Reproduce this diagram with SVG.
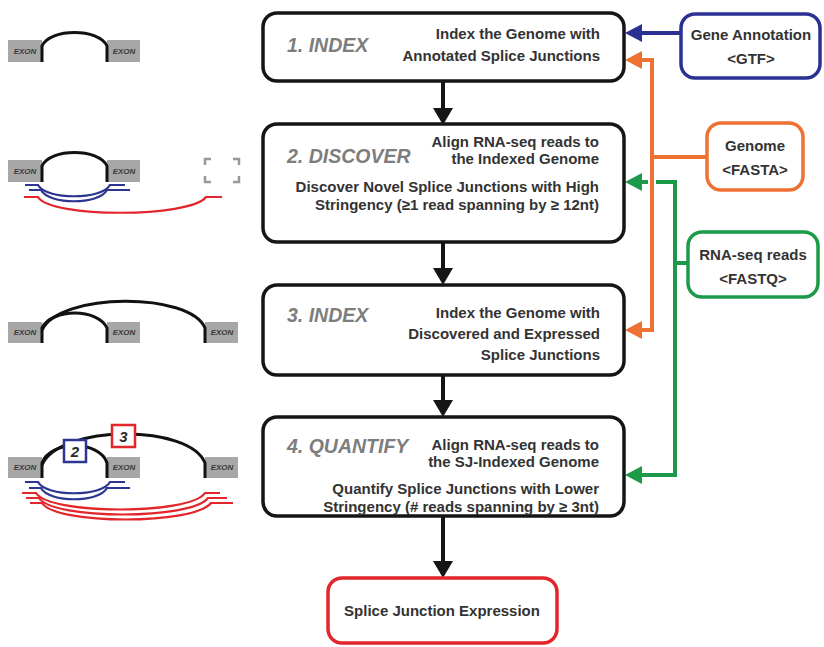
<svg xmlns="http://www.w3.org/2000/svg" width="824" height="647" viewBox="0 0 824 647">
<style>
.box{fill:#fff;stroke:#151515;stroke-width:3.5}
.title{font-family:"Liberation Sans",Arial,sans-serif;font-size:19.5px;font-style:italic;font-weight:bold;fill:#7d7d7d}
.desc{font-family:"Liberation Sans",Arial,sans-serif;font-size:15px;font-weight:bold;fill:#333;text-anchor:end}
.ctr{font-family:"Liberation Sans",Arial,sans-serif;font-size:15px;font-weight:bold;fill:#333;text-anchor:middle}
.exon{fill:#a7a7a7}
.ex{font-family:"Liberation Sans",Arial,sans-serif;font-size:8px;font-style:italic;font-weight:bold;fill:#3a3a3a;text-anchor:middle}
.arc{fill:none;stroke:#111;stroke-width:3}
.blu{fill:none;stroke:#2c3590;stroke-width:2.2}
.red{fill:none;stroke:#e3262b;stroke-width:2.2}
.conn{fill:none;stroke-width:4}
</style>
<defs>
<marker id="ak" viewBox="0 0 17 20" refX="7" refY="10" markerWidth="17" markerHeight="20" orient="auto" markerUnits="userSpaceOnUse"><path d="M0,0 L17,10 L0,20 z" fill="#151515"/></marker>
<marker id="ab" viewBox="0 0 17 18" refX="7" refY="9" markerWidth="17" markerHeight="18" orient="auto" markerUnits="userSpaceOnUse"><path d="M0,0 L17,9 L0,18 z" fill="#2a3192"/></marker>
<marker id="ao" viewBox="0 0 17 18" refX="7" refY="9" markerWidth="17" markerHeight="18" orient="auto" markerUnits="userSpaceOnUse"><path d="M0,0 L17,9 L0,18 z" fill="#ee7131"/></marker>
<marker id="ag" viewBox="0 0 17 18" refX="7" refY="9" markerWidth="17" markerHeight="18" orient="auto" markerUnits="userSpaceOnUse"><path d="M0,0 L17,9 L0,18 z" fill="#1c9a4a"/></marker>
</defs>

<g id="connectors">
<path class="conn" stroke="#151515" d="M443,82 V115" marker-end="url(#ak)"/>
<path class="conn" stroke="#151515" d="M443,242 V275" marker-end="url(#ak)"/>
<path class="conn" stroke="#151515" d="M443,375 V407" marker-end="url(#ak)"/>
<path class="conn" stroke="#151515" d="M443,516 V568" marker-end="url(#ak)"/>
<path class="conn" stroke="#2a3192" d="M681,33 H635" marker-end="url(#ab)"/>
<path class="conn" stroke="#1c9a4a" d="M687,263 H675 V182 H635" marker-end="url(#ag)"/>
<path class="conn" stroke="#1c9a4a" d="M675,263 V475 H635" marker-end="url(#ag)"/>
<path fill="none" stroke="#fff" stroke-width="8" d="M652,176 V188"/>
<path class="conn" stroke="#ee7131" d="M707,157 H652 V60 H635" marker-end="url(#ao)"/>
<path class="conn" stroke="#ee7131" d="M652,157 V330 H635" marker-end="url(#ao)"/>
</g>

<g id="step1">
<rect class="box" x="263" y="13" width="361" height="68" rx="14"/>
<text class="title" x="287" y="52">1. INDEX</text>
<text class="desc" x="600" y="39">Index the Genome with</text>
<text class="desc" x="600" y="61">Annotated Splice Junctions</text>
</g>

<g id="step2">
<rect class="box" x="263" y="124" width="361" height="118" rx="14"/>
<text class="title" x="287" y="163">2. DISCOVER</text>
<text class="desc" x="599" y="147">Align RNA-seq reads to</text>
<text class="desc" x="599" y="164">the Indexed Genome</text>
<text class="desc" x="599" y="192">Discover Novel Splice Junctions with High</text>
<text class="desc" x="599" y="210">Stringency (≥1 read spanning by ≥ 12nt)</text>
</g>

<g id="step3">
<rect class="box" x="263" y="285" width="361" height="90" rx="14"/>
<text class="title" x="287" y="322">3. INDEX</text>
<text class="desc" x="600" y="318">Index the Genome with</text>
<text class="desc" x="600" y="339">Discovered and Expressed</text>
<text class="desc" x="600" y="360">Splice Junctions</text>
</g>

<g id="step4">
<rect class="box" x="263" y="417" width="361" height="99" rx="14"/>
<text class="title" x="287" y="453">4. QUANTIFY</text>
<text class="desc" x="599" y="450">Align RNA-seq reads to</text>
<text class="desc" x="599" y="467">the SJ-Indexed Genome</text>
<text class="desc" x="599" y="494">Quantify Splice Junctions with Lower</text>
<text class="desc" x="599" y="512">Stringency (# reads spanning by ≥ 3nt)</text>
</g>

<g id="output">
<rect x="328" y="578" width="229" height="65" rx="14" fill="#fff" stroke="#e3262b" stroke-width="3.5"/>
<text class="ctr" x="442" y="616">Splice Junction Expression</text>
</g>

<g id="gtf">
<rect x="681" y="14" width="139" height="64" rx="14" fill="#fff" stroke="#2a3192" stroke-width="3.5"/>
<text class="ctr" x="751" y="40">Gene Annotation</text>
<text class="ctr" x="751" y="64">&lt;GTF&gt;</text>
</g>

<g id="fasta">
<rect x="707" y="123" width="96" height="67" rx="14" fill="#fff" stroke="#ee7131" stroke-width="3.5"/>
<text class="ctr" x="755" y="151">Genome</text>
<text class="ctr" x="755" y="175">&lt;FASTA&gt;</text>
</g>

<g id="fastq">
<rect x="688" y="232" width="130" height="65" rx="14" fill="#fff" stroke="#1c9a4a" stroke-width="3.5"/>
<text class="ctr" x="753" y="260">RNA-seq reads</text>
<text class="ctr" x="753" y="284">&lt;FASTQ&gt;</text>
</g>

<g id="sketch1">
<rect class="exon" x="8" y="40" width="34" height="22"/>
<rect class="exon" x="107" y="40" width="33" height="22"/>
<text class="ex" x="25" y="54">EXON</text>
<text class="ex" x="124" y="54">EXON</text>
<path class="arc" d="M42,62 V46 C50,28 99,28 107,46 V62"/>
</g>

<g id="sketch2">
<rect class="exon" x="8" y="160" width="34" height="22"/>
<rect class="exon" x="107" y="160" width="33" height="22"/>
<text class="ex" x="25" y="174">EXON</text>
<text class="ex" x="124" y="174">EXON</text>
<path class="arc" d="M42,182 V166 C50,148 99,148 107,166 V182"/>
<path class="blu" d="M25,185 H38 C46,200 102,200 110,185 H125"/>
<path class="blu" d="M29,190 H41 C49,205 99,205 107,190 H130"/>
<path class="red" d="M24,197 H38 C50,218 190,218 206,197 H222"/>
<path fill="none" stroke="#999" stroke-width="2.5" d="M205,165 V159 H211 M233,159 H239 V165 M205,176 V182 H211 M233,182 H239 V176"/>
</g>

<g id="sketch3">
<rect class="exon" x="8" y="322" width="34" height="21"/>
<rect class="exon" x="107" y="322" width="33" height="21"/>
<rect class="exon" x="205" y="322" width="33" height="21"/>
<text class="ex" x="25" y="335">EXON</text>
<text class="ex" x="124" y="335">EXON</text>
<text class="ex" x="222" y="335">EXON</text>
<path class="arc" d="M42,343 V328 C52,308 98,308 107,328 V343"/>
<path class="arc" d="M42,330 C60,292 190,292 205,328 V343"/>
</g>

<g id="sketch4">
<rect class="exon" x="8" y="457" width="34" height="21"/>
<rect class="exon" x="107" y="457" width="33" height="21"/>
<rect class="exon" x="205" y="457" width="33" height="21"/>
<text class="ex" x="25" y="470">EXON</text>
<text class="ex" x="124" y="470">EXON</text>
<text class="ex" x="222" y="470">EXON</text>
<path class="arc" d="M42,478 V463 C50,440 100,440 107,463 V478"/>
<path class="arc" d="M42,465 C60,424 190,424 205,463 V478"/>
<path class="blu" d="M25,482 H38 C46,497 102,497 110,482 H125"/>
<path class="blu" d="M29,488 H41 C49,503 99,503 107,488 H130"/>
<path class="red" d="M22,493 H36 C50,515 190,515 205,493 H220"/>
<path class="red" d="M26,498 H39 C53,520 192,520 208,498 H227"/>
<path class="red" d="M30,503 H42 C56,525 194,525 211,503 H233"/>
<rect x="64" y="440" width="22" height="22" fill="#fff" stroke="#2c3590" stroke-width="2.5"/>
<text x="75" y="457" font-family="Liberation Sans, Arial, sans-serif" font-size="15" font-weight="bold" font-style="italic" fill="#2a2a2a" text-anchor="middle">2</text>
<rect x="112" y="425" width="23" height="22" fill="#fff" stroke="#e3262b" stroke-width="2.5"/>
<text x="123.5" y="442" font-family="Liberation Sans, Arial, sans-serif" font-size="15" font-weight="bold" font-style="italic" fill="#2a2a2a" text-anchor="middle">3</text>
</g>
</svg>
